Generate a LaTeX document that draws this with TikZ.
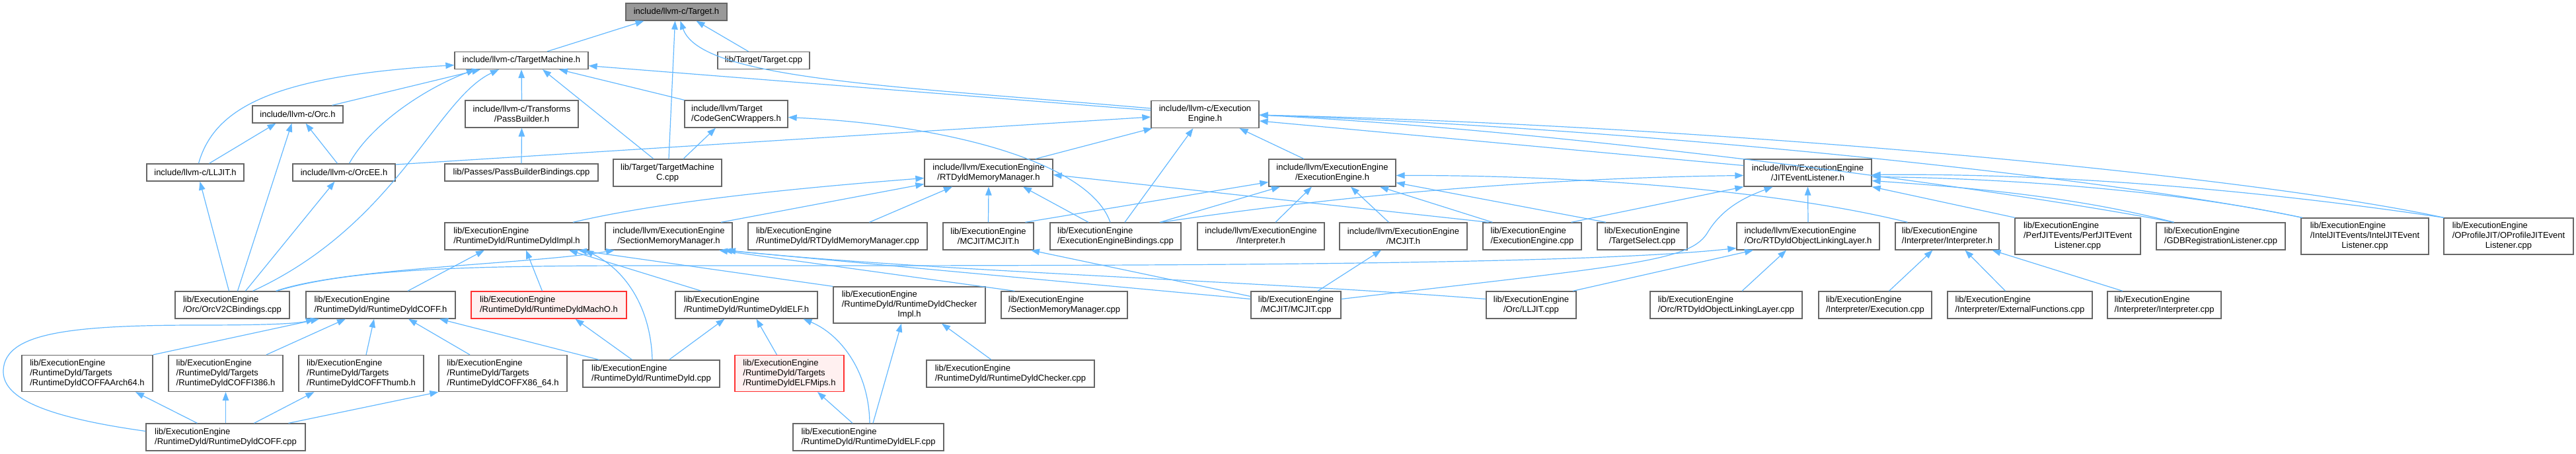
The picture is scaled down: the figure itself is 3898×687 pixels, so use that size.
\documentclass[tikz,border=0pt]{standalone}
\usepackage{fontspec}
\setmainfont{Liberation Sans}
\usepackage{xcolor}
\usepackage{tikz}
\usetikzlibrary{
    arrows.meta,
    positioning,
    calc
}
\definecolor{nodeborder}{HTML}{666666}
\definecolor{focusgray}{HTML}{999999}
\definecolor{edgeblue}{HTML}{63B8FF}
\definecolor{redborder}{HTML}{FF3030}
\definecolor{redfill}{HTML}{FFF0F0}
\tikzstyle{file} = [draw=nodeborder, line width=1.3pt, fill=white, inner sep=0pt,
    minimum height=26, font=\fontsize{13}{15}\selectfont]
\tikzstyle{file2} = [file, minimum height=41]
\tikzstyle{file3} = [file, minimum height=55]
\tikzstyle{redfile} = [draw=redborder, fill=redfill]
\tikzstyle{incl} = [draw=edgeblue, line width=1.2pt, -{Triangle[length=13pt,width=9.5pt]}]
\newcommand{\ctrrow}[1]{\multicolumn{1}{@{}c@{}}{#1}}

\begin{document}
\begin{tikzpicture}[x=1pt,y=-1pt]
\useasboundingbox (0,0) rectangle (3898,687);
% top rows
\node[file, minimum width=153, fill=focusgray] (target) at (1023.5,18) {include/llvm-c/Target.h};
\node[file, minimum width=202] (tm) at (789,91.5) {include/llvm-c/TargetMachine.h};
\node[file, minimum width=139] (tcpp) at (1155.5,91.5) {lib/Target/Target.cpp};
\node[file, minimum width=137] (orc) at (450.5,173) {include/llvm-c/Orc.h};
\node[file2, minimum width=171, align=center] (passb) at (789.5,172.5) {include/llvm-c/Transforms\\/PassBuilder.h};
\node[file2, minimum width=156, align=left] (cgcw) at (1114,172.5) {include/llvm/Target\\/CodeGenCWrappers.h};
\node[file2, minimum width=163, align=center] (ceng) at (1823.5,173) {include/llvm-c/Execution\\Engine.h};
\node[file, minimum width=147] (lljith) at (295.5,261) {include/llvm-c/LLJIT.h};
\node[file, minimum width=155] (orcee) at (520.5,261) {include/llvm-c/OrcEE.h};
\node[file, minimum width=232] (pbb) at (789,261) {lib/Passes/PassBuilderBindings.cpp};
\node[file2, minimum width=164, align=center] (tmc) at (1010,261.5) {lib/Target/TargetMachine\\C.cpp};
\node[file2, minimum width=194, align=center] (rtdmm) at (1496,261.5) {include/llvm/ExecutionEngine\\/RTDyldMemoryManager.h};
\node[file2, minimum width=192, align=center] (eeh) at (2016,261.5) {include/llvm/ExecutionEngine\\/ExecutionEngine.h};
\node[file2, minimum width=193, align=center] (jitel) at (2735.5,261.5) {include/llvm/ExecutionEngine\\/JITEventListener.h};
% third row
\node[file2, minimum width=218, align=left] (dyldimpl) at (782,357.5) {lib/ExecutionEngine\\/RuntimeDyld/RuntimeDyldImpl.h};
\node[file2, minimum width=192, align=center] (smmh) at (1012,357.5) {include/llvm/ExecutionEngine\\/SectionMemoryManager.h};
\node[file2, minimum width=271, align=left] (rtdmmcpp) at (1267.5,357.5) {lib/ExecutionEngine\\/RuntimeDyld/RTDyldMemoryManager.cpp};
\node[file2, minimum width=137, align=center] (mcjitlib) at (1495.5,357.5) {lib/ExecutionEngine\\/MCJIT/MCJIT.h};
\node[file2, minimum width=198, align=left] (eebind) at (1688,357.5) {lib/ExecutionEngine\\/ExecutionEngineBindings.cpp};
\node[file2, minimum width=192, align=center] (interph) at (1908,357.5) {include/llvm/ExecutionEngine\\/Interpreter.h};
\node[file2, minimum width=193, align=center] (mcjith) at (2123.5,357.5) {include/llvm/ExecutionEngine\\/MCJIT.h};
\node[file2, minimum width=149, align=left] (eecpp) at (2318.5,357.5) {lib/ExecutionEngine\\/ExecutionEngine.cpp};
\node[file2, minimum width=136, align=center] (tsel) at (2485,357.5) {lib/ExecutionEngine\\/TargetSelect.cpp};
\node[file2, minimum width=216, align=left] (rtdollh) at (2736,357.5) {include/llvm/ExecutionEngine\\/Orc/RTDyldObjectLinkingLayer.h};
\node[file2, minimum width=157, align=left] (interpl) at (2946.5,357.5) {lib/ExecutionEngine\\/Interpreter/Interpreter.h};
\node[file3, minimum width=190] (perf) at (3144,357.5) {\begin{tabular}{@{}l@{}}lib/ExecutionEngine\\/PerfJITEvents/PerfJITEvent\\\ctrrow{Listener.cpp}\end{tabular}};
\node[file2, minimum width=195, align=left] (gdb) at (3360.5,357.5) {lib/ExecutionEngine\\/GDBRegistrationListener.cpp};
\node[file3, minimum width=193] (intel) at (3578.5,357.5) {\begin{tabular}{@{}l@{}}lib/ExecutionEngine\\/IntelJITEvents/IntelJITEvent\\\ctrrow{Listener.cpp}\end{tabular}};
\node[file3, minimum width=196] (oprof) at (3796,357.5) {\begin{tabular}{@{}l@{}}lib/ExecutionEngine\\/OProfileJIT/OProfileJITEvent\\\ctrrow{Listener.cpp}\end{tabular}};
% fourth row
\node[file2, minimum width=173, align=left] (orcv2c) at (351.5,461.5) {lib/ExecutionEngine\\/Orc/OrcV2CBindings.cpp};
\node[file2, minimum width=226, align=left] (coffh) at (576,461.5) {lib/ExecutionEngine\\/RuntimeDyld/RuntimeDyldCOFF.h};
\node[file2, redfile, minimum width=235, align=left] (macho) at (830.5,461.5) {lib/ExecutionEngine\\/RuntimeDyld/RuntimeDyldMachO.h};
\node[file2, minimum width=215, align=left] (elfh) at (1129.5,461.5) {lib/ExecutionEngine\\/RuntimeDyld/RuntimeDyldELF.h};
\node[file3, minimum width=230] (checkimpl) at (1376,461.5) {\begin{tabular}{@{}l@{}}lib/ExecutionEngine\\/RuntimeDyld/RuntimeDyldChecker\\\ctrrow{Impl.h}\end{tabular}};
\node[file2, minimum width=191, align=left] (smmcpp) at (1610.5,461.5) {lib/ExecutionEngine\\/SectionMemoryManager.cpp};
\node[file2, minimum width=136, align=center] (mcjitcpp) at (1961,461.5) {lib/ExecutionEngine\\/MCJIT/MCJIT.cpp};
\node[file2, minimum width=136, align=center] (lljitcpp) at (2317,461.5) {lib/ExecutionEngine\\/Orc/LLJIT.cpp};
\node[file2, minimum width=230, align=left] (rtdollcpp) at (2612,461.5) {lib/ExecutionEngine\\/Orc/RTDyldObjectLinkingLayer.cpp};
\node[file2, minimum width=171, align=left] (exec) at (2837.5,461.5) {lib/ExecutionEngine\\/Interpreter/Execution.cpp};
\node[file2, minimum width=219, align=left] (extf) at (3056.5,461.5) {lib/ExecutionEngine\\/Interpreter/ExternalFunctions.cpp};
\node[file2, minimum width=172, align=left] (interpcpp) at (3275,461.5) {lib/ExecutionEngine\\/Interpreter/Interpreter.cpp};
% fifth and sixth rows
\node[file3, minimum width=198, align=left] (aarch64) at (132,565) {lib/ExecutionEngine\\/RuntimeDyld/Targets\\/RuntimeDyldCOFFAArch64.h};
\node[file3, minimum width=173, align=left] (i386) at (341.5,565) {lib/ExecutionEngine\\/RuntimeDyld/Targets\\/RuntimeDyldCOFFI386.h};
\node[file3, minimum width=189, align=left] (thumb) at (546.5,565) {lib/ExecutionEngine\\/RuntimeDyld/Targets\\/RuntimeDyldCOFFThumb.h};
\node[file3, minimum width=194, align=left] (x8664) at (761,565) {lib/ExecutionEngine\\/RuntimeDyld/Targets\\/RuntimeDyldCOFFX86\_64.h};
\node[file2, minimum width=207, align=left] (dyldcpp) at (985.5,565.5) {lib/ExecutionEngine\\/RuntimeDyld/RuntimeDyld.cpp};
\node[file3, redfile, minimum width=165, align=left] (elfmips) at (1194.5,565) {lib/ExecutionEngine\\/RuntimeDyld/Targets\\/RuntimeDyldELFMips.h};
\node[file2, minimum width=254, align=left] (checkercpp) at (1529,565.5) {lib/ExecutionEngine\\/RuntimeDyld/RuntimeDyldChecker.cpp};
\node[file2, minimum width=241, align=left] (coffcpp) at (341.5,661.5) {lib/ExecutionEngine\\/RuntimeDyld/RuntimeDyldCOFF.cpp};
\node[file2, minimum width=228, align=left] (elfcpp) at (1314,661.5) {lib/ExecutionEngine\\/RuntimeDyld/RuntimeDyldELF.cpp};
% include edges
\draw[incl] ([xshift=39]tm.north) -- ([xshift=-49]target.south);
\draw[incl] ([xshift=2]tmc.north) -- ([xshift=-2]target.south);
\draw[incl] ([xshift=-23]tcpp.north) -- ([xshift=30]target.south);
\draw[incl] ([yshift=9]ceng.west) .. controls (1350,130) and (1060,120) .. ([xshift=6]target.south);
\draw[incl] ([xshift=5]lljith.north) .. controls (325,160) and (420,115) .. ([yshift=-7]tm.west);
\draw[incl] ([xshift=52]orc.north) -- ([xshift=-62]tm.south);
\draw[incl] ([xshift=8]orcee.north) .. controls (560,190) and (640,135) .. ([xshift=-70]tm.south);
\draw[incl] ([xshift=31]orcv2c.north) .. controls (600,340) and (660,150) .. ([xshift=-34]tm.south);
\draw[incl] (passb.north) -- (tm.south);
\draw[incl] ([xshift=-21]tmc.north) -- ([xshift=32]tm.south);
\draw[incl] (cgcw.north west) -- ([xshift=57]tm.south);
\draw[incl] ([yshift=6]ceng.west) -- ([yshift=-8]tm.east);
\draw[incl] ([yshift=12]orcee.east) -- ([yshift=-4]ceng.west);
\draw[incl] ([xshift=21]lljith.north) -- ([xshift=-33]orc.south);
\draw[incl] ([xshift=-10]orcee.north) -- ([xshift=12]orc.south);
\draw[incl] ([xshift=8]orcv2c.north) -- ([xshift=-9]orc.south);
\draw[incl] ([xshift=-5]orcv2c.north) -- ([xshift=7]lljith.south);
\draw[incl] ([xshift=20]orcv2c.north) -- ([xshift=-14]orcee.south);
\draw[incl] (pbb.north) -- (passb.south);
\draw[incl] ([xshift=24]tmc.north) -- ([xshift=-31]cgcw.south);
\draw[incl] ([xshift=-8]eebind.north) .. controls (1650,250) and (1450,190) .. ([yshift=-5]cgcw.east);
\draw[incl] ([xshift=14]eebind.north) -- ([xshift=-18]ceng.south);
\draw[incl] ([xshift=-43]eeh.north) -- ([xshift=52]ceng.south);
\draw[incl] ([xshift=71]rtdmm.north) -- ([xshift=-80]ceng.south);
\draw[incl] ([yshift=11]jitel.west) -- ([yshift=-10]ceng.east);
\draw[incl] ([xshift=-71]gdb.north) .. controls (3050,290) and (2400,200) .. ([yshift=-1]ceng.east);
\draw[incl] ([xshift=-95]intel.north) .. controls (3200,270) and (2500,195) .. ([yshift=-1]ceng.east);
\draw[incl] ([xshift=-98]oprof.north) .. controls (3400,265) and (2600,190) .. ([yshift=-1]ceng.east);
\draw[incl] (rtdollh.north) -- (jitel.south);
\draw[incl] ([xshift=59]eecpp.north) -- (jitel.south west);
\draw[incl] ([xshift=69]eebind.north) .. controls (2000,300) and (2300,270) .. ([yshift=-4]jitel.west);
\draw[incl] ([yshift=9]mcjitcpp.east) .. controls (2480,400) and (2560,395) .. (2585,350) .. controls (2610,310) and (2650,295) .. ([xshift=-53]jitel.south);
\draw[incl] ([xshift=-95]perf.north) -- (jitel.south east);
\draw[incl] ([xshift=-71]gdb.north) .. controls (3150,300) and (3000,285) .. ([yshift=-12]jitel.east);
\draw[incl] ([xshift=-95]intel.north) .. controls (3300,290) and (3050,270) .. ([yshift=-6]jitel.east);
\draw[incl] ([xshift=-98]oprof.north) .. controls (3400,285) and (3100,262) .. ([yshift=-3]jitel.east);
\draw[incl] ([xshift=56]mcjitlib.north) -- ([yshift=-14]eeh.west);
\draw[incl] ([xshift=67]eebind.north) -- ([xshift=-79]eeh.south);
\draw[incl] ([xshift=22]interph.north) -- ([xshift=-31]eeh.south);
\draw[incl] ([xshift=-22]mcjith.north) -- ([xshift=28]eeh.south);
\draw[incl] ([xshift=-60]eecpp.north) -- ([xshift=72]eeh.south);
\draw[incl] ([xshift=-60]interpl.north) .. controls (2700,290) and (2400,265) .. ([yshift=-4]eeh.east);
\draw[incl] ([xshift=-55]tsel.north) -- ([yshift=-15]eeh.east);
\draw[incl] ([xshift=85]dyldimpl.north) .. controls (1000,305) and (1200,285) .. ([yshift=-8]rtdmm.west);
\draw[incl] ([xshift=79]smmh.north) -- ([yshift=-17]rtdmm.west);
\draw[incl] ([xshift=48]rtdmmcpp.north) -- ([xshift=-55]rtdmm.south);
\draw[incl] (mcjitlib.north) -- (rtdmm.south);
\draw[incl] ([xshift=-41]eebind.north) -- ([xshift=52]rtdmm.south);
\draw[incl] ([xshift=-66]eecpp.north) -- ([yshift=-3]rtdmm.east);
\draw[incl] ([xshift=66]orcv2c.north) .. controls (520,405) and (800,400) .. ([xshift=-82]smmh.south);
\draw[incl] ([xshift=-75]smmcpp.north) -- ([xshift=76]smmh.south);
\draw[incl] ([yshift=9]mcjitcpp.west) -- ([xshift=83]smmh.south);
\draw[incl] ([yshift=9]lljitcpp.west) .. controls (1900,425) and (1400,410) .. ([xshift=88]smmh.south);
\draw[incl] ([xshift=67]orcv2c.north) .. controls (560,398) and (800,402) .. (1200,402) .. controls (1800,402) and (2400,400) .. ([yshift=-18]rtdollh.west);
\draw[incl] ([xshift=63]lljitcpp.north) -- ([xshift=-83]rtdollh.south);
\draw[incl] ([xshift=24]rtdollcpp.north) -- ([xshift=-33]rtdollh.south);
\draw[incl] ([xshift=21]exec.north) -- ([xshift=-22]interpl.south);
\draw[incl] ([xshift=-22]extf.north) -- ([xshift=27]interpl.south);
\draw[incl] ([xshift=-63]interpcpp.north) -- ([xshift=68]interpl.south);
\draw[incl] ([xshift=41]coffh.north) -- ([xshift=-49]dyldimpl.south);
\draw[incl] ([xshift=-10]macho.north) -- ([xshift=14]dyldimpl.south);
\draw[incl] ([xshift=-68]elfh.north) -- ([xshift=79]dyldimpl.south);
\draw[incl] ([xshift=1.5]dyldcpp.north) .. controls (985,470) and (950,410) .. ([xshift=103]dyldimpl.south);
\draw[incl] (checkimpl.north west) -- ([xshift=93]dyldimpl.south);
\draw[incl] (aarch64.north east) -- ([xshift=-93]coffh.south);
\draw[incl] ([xshift=61.5]i386.north) -- ([xshift=-53]coffh.south);
\draw[incl] ([xshift=7.5]thumb.north) -- ([xshift=-10]coffh.south);
\draw[incl] ([xshift=-50]x8664.north) -- ([xshift=42]coffh.south);
\draw[incl] ([xshift=-79]dyldcpp.north) -- ([xshift=89]coffh.south);
\draw[incl] ([yshift=9]coffcpp.west) .. controls (60,630) and (3,600) .. (5,560) .. controls (8,505) and (100,492) .. (300,492) .. controls (400,492) and (450,490) .. ([xshift=-100]coffh.south);
\draw[incl] ([xshift=-43]coffcpp.north) -- ([xshift=73]aarch64.south);
\draw[incl] (coffcpp.north) -- (i386.south);
\draw[incl] ([xshift=43]coffcpp.north) -- ([xshift=-71]thumb.south);
\draw[incl] ([xshift=95]coffcpp.north) -- (x8664.south west);
\draw[incl] ([xshift=-29]dyldcpp.north) -- ([xshift=40]macho.south);
\draw[incl] ([xshift=27]dyldcpp.north) -- ([xshift=-33]elfh.south);
\draw[incl] ([xshift=-19]elfmips.north) -- ([xshift=15]elfh.south);
\draw[incl] ([xshift=2]elfcpp.north) .. controls (1315,560) and (1270,505) .. ([xshift=86]elfh.south);
\draw[incl] ([xshift=-24]elfcpp.north) -- ([xshift=42.5]elfmips.south);
\draw[incl] ([xshift=7]elfcpp.north) -- ([xshift=-12]checkimpl.south);
\draw[incl] ([xshift=-29]checkercpp.north) -- ([xshift=49]checkimpl.south);
\draw[incl] ([yshift=13]mcjitcpp.west) -- ([xshift=64.5]mcjitlib.south);
\draw[incl] ([xshift=33]mcjitcpp.north) -- ([xshift=-33.5]mcjith.south);
\end{tikzpicture}
\end{document}
